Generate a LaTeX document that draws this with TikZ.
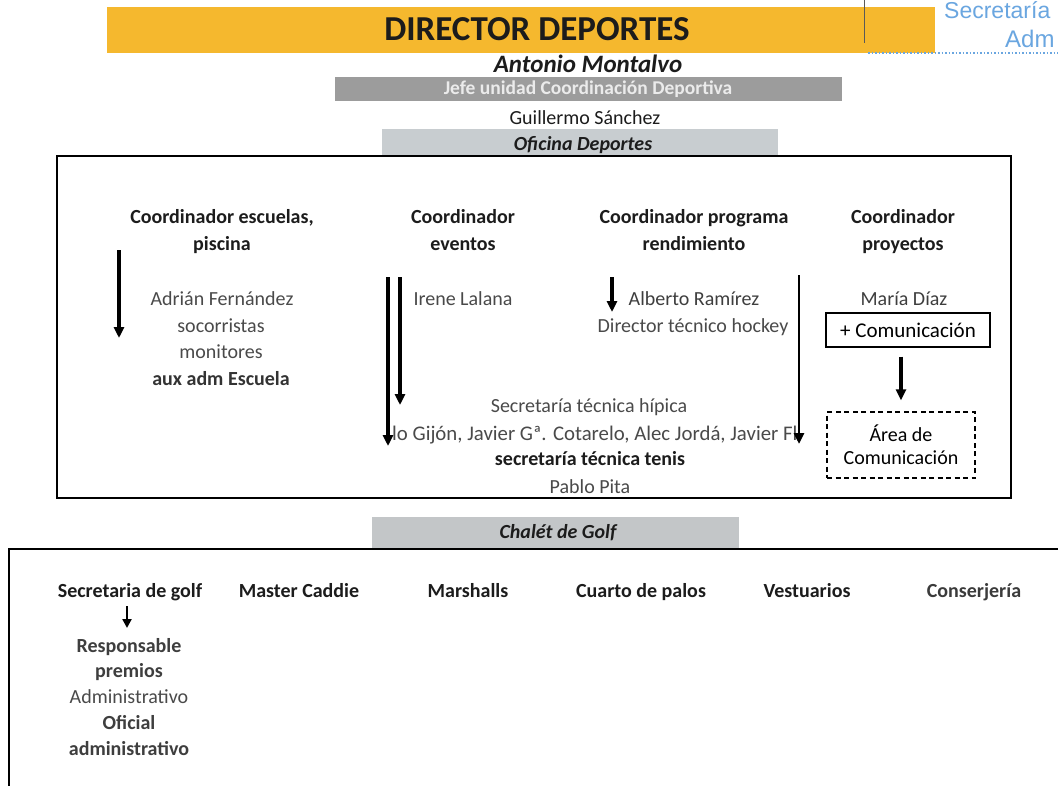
\documentclass[tikz,border=0pt]{standalone}
\usepackage{fontspec}
\setmainfont{Carlito}
\newfontfamily\arialf{Liberation Sans}
\usetikzlibrary{arrows.meta}
\definecolor{orangebar}{HTML}{F5B82E}
\definecolor{jefegray}{HTML}{9C9C9C}
\definecolor{oficinagray}{HTML}{C8CDD0}
\definecolor{chaletgray}{HTML}{C3C6C8}
\definecolor{textdark}{HTML}{1C1C1C}
\definecolor{textgray}{HTML}{4A4A4A}
\definecolor{secblue}{HTML}{6AA6E0}
\begin{document}
\begin{tikzpicture}[x=1pt,y=-1pt,
  txt/.style={anchor=base, inner sep=0pt, font=\fontsize{20}{27}\selectfont, text=textgray},
  boldtxt/.style={anchor=base, inner sep=0pt, font=\fontsize{20}{27}\selectfont\bfseries, text=textdark},
  bitxt/.style={anchor=base, inner sep=0pt, font=\fontsize{20}{27}\selectfont\bfseries\itshape, text=textdark},
  arr/.style={line width=3.4pt, -{Triangle[length=11pt,width=10pt]}},
  frame/.style={draw=black, line width=2.4pt},
]
\useasboundingbox (0,0) rectangle (1058,785);
\clip (0,0) rectangle (1058,785);
\fill[white] (0,0) rectangle (1058,785);

% ---- header ----
\node[anchor=base west, inner sep=0pt, text=secblue, font=\arialf\fontsize{23}{23}\selectfont] (sec) at (944,18) {Secretaría};
\node[anchor=base west, inner sep=0pt, text=secblue, font=\arialf\fontsize{24}{24}\selectfont] (adm) at (1005,47) {Adm};
\fill[orangebar] (107,7) rectangle (935,53);
\draw[gray!70!black, line width=0.8pt] (864,0) -- (864,43);
\draw[secblue, dotted, line width=1.5pt] (868,53) -- (1058,53);
\node[anchor=base, inner sep=0pt, text=textdark, font=\fontsize{35}{35}\selectfont\bfseries] (dir) at (537,40) {DIRECTOR DEPORTES};
\node[anchor=base, inner sep=0pt, text=textdark, font=\fontsize{25}{25}\selectfont\bfseries\itshape] (am) at (588,72) {Antonio Montalvo};
\fill[jefegray] (335,77) rectangle (842,101);
\node[anchor=base, inner sep=0pt, text=white!92!black, font=\fontsize{19.5}{19.5}\selectfont\bfseries] (jefe) at (588,94) {Jefe unidad Coordinación Deportiva};
\node[txt, text=textdark] (gs) at (585,124) {Guillermo Sánchez};
\fill[oficinagray] (382,129) rectangle (778,155);
\node[bitxt] (of) at (583,150) {Oficina Deportes};

% ---- oficina box ----
\draw[frame] (57,156) rectangle (1011,498);

\node[boldtxt] (h1a) at (222,223) {Coordinador escuelas,};
\node[boldtxt] (h1b) at (222,250) {piscina};
\node[boldtxt] (h2a) at (463,223) {Coordinador};
\node[boldtxt] (h2b) at (463,250) {eventos};
\node[boldtxt] (h3a) at (694,223) {Coordinador programa};
\node[boldtxt] (h3b) at (694,250) {rendimiento};
\node[boldtxt] (h4a) at (903,223) {Coordinador};
\node[boldtxt] (h4b) at (903,250) {proyectos};

\node[txt] (af) at (222,305) {Adrián Fernández};
\node[txt] (soc) at (221,332) {socorristas};
\node[txt] (mon) at (221,358) {monitores};
\node[boldtxt, text=textdark!90] (aux) at (221,385) {aux adm Escuela};

\node[txt, text=textdark!80] (il) at (463,305) {Irene Lalana};
\node[txt, text=textdark!85] (ar) at (694,305) {Alberto Ramírez};
\node[txt] (dth) at (693,332) {Director técnico hockey};
\node[txt, text=textdark!85] (md) at (904,305) {María Díaz};

\node[draw=black, line width=1.4pt, minimum width=164pt, minimum height=34pt, inner sep=0pt,
      font=\fontsize{21}{21}\selectfont, text=black] (com) at (908,330) {+ Comunicación};
\node[draw=black, dash pattern=on 5pt off 3.5pt, line width=1.3pt, minimum width=148pt, minimum height=66pt, inner sep=0pt,
      align=center, font=\fontsize{20}{23}\selectfont, text=black] (area) at (901,445) {Área de\\Comunicación};

\node[txt] (sth) at (589,412) {Secretaría técnica hípica};
\node[txt, anchor=base west, font=\fontsize{20.8}{27}\selectfont] (nom) at (392,440) {lo Gijón, Javier Gª. Cotarelo, Alec Jordá, Javier Fl};
\node[boldtxt] (stt) at (590,465) {secretaría técnica tenis};
\node[txt] (pp) at (590,493) {Pablo Pita};

% arrows in oficina box
\coordinate (a1s) at (119,250); \coordinate (a1e) at (119,338);
\coordinate (a2s) at (388,277); \coordinate (a2e) at (388,446);
\coordinate (a3s) at (400,277); \coordinate (a3e) at (400,405);
\coordinate (a4s) at (612,277); \coordinate (a4e) at (612,312);
\coordinate (a5s) at (799,275); \coordinate (a5e) at (799,444);
\draw[arr] (a1s) -- (a1e);
\draw[arr] (a2s) -- (a2e);
\draw[arr] (a3s) -- (a3e);
\draw[arr] (a4s) -- (a4e);
\draw[arr, line width=2.8pt] (a5s) -- (a5e);
\draw[arr, shorten <=9pt, shorten >=11pt] (com.south -| area.north) -- (area.north);

% ---- chalet ----
\fill[chaletgray] (372,517) rectangle (739,549);
\node[bitxt] (ch) at (558,538) {Chalét de Golf};
\draw[frame] (9,549) rectangle (1080,820);

\node[boldtxt] (g1) at (130,597) {Secretaria de golf};
\node[boldtxt] (g2) at (299,597) {Master Caddie};
\node[boldtxt] (g3) at (468,597) {Marshalls};
\node[boldtxt] (g4) at (641,597) {Cuarto de palos};
\node[boldtxt] (g5) at (807,597) {Vestuarios};
\node[boldtxt, text=textgray!80!black] (g6) at (974,597) {Conserjería};

\coordinate (a6s) at (127,606); \coordinate (a6e) at (127,628);
\draw[arr, line width=2.8pt, -{Triangle[length=9pt,width=9pt]}] (a6s) -- (a6e);

\node[boldtxt, text=textdark!85] (rp1) at (129,652) {Responsable};
\node[boldtxt, text=textdark!85] (rp2) at (129,677) {premios};
\node[txt] (adm2) at (129,703) {Administrativo};
\node[boldtxt, text=textdark!85] (of1) at (129,729) {Oficial};
\node[boldtxt, text=textdark!85] (of2) at (129,755) {administrativo};
\end{tikzpicture}
\end{document}
